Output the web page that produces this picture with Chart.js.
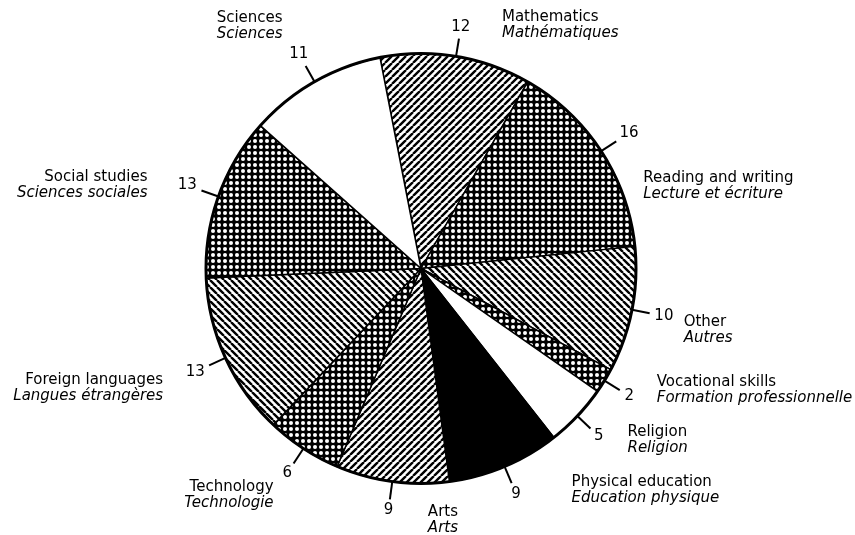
<!DOCTYPE html>
<html>
<head>
<meta charset="utf-8">
<script src="https://cdn.jsdelivr.net/npm/chart.js@4/dist/chart.umd.min.js"></script>
<style>
  html, body { margin: 0; padding: 0; background: #fff; }
  #wrap { width: 855px; height: 535px; }
</style>
</head>
<body>
<div id="wrap"><canvas id="subjectsChart"></canvas></div>
<script>
// Subjects, clockwise from the top of the pie
const subjectsEn = ['Mathematics', 'Reading and writing', 'Other', 'Vocational skills', 'Religion',
    'Physical education', 'Arts', 'Technology', 'Foreign languages', 'Social studies', 'Sciences'];
const subjectsFr = ['Mathématiques', 'Lecture et écriture', 'Autres', 'Formation professionnelle', 'Religion',
    'Education physique', 'Arts', 'Technologie', 'Langues étrangères', 'Sciences sociales', 'Sciences'];
const shares = [12, 16, 10, 2, 5, 9, 9, 6, 13, 13, 11];
const fillKinds = ['hatchUp', 'dots', 'hatchDown', 'dots', 'white', 'black', 'hatchUp', 'dots', 'hatchDown', 'dots', 'white'];

// Name block placement measured from the end of each tick: [dx, dy of first line, text align]
const nameOffsets = [
    [43, -22, 'left'], [27, 37, 'left'], [34, 9, 'left'], [37, -8, 'left'], [37, 4, 'left'],
    [60, -1, 'left'], [38, 13, 'left'], [-20, 24, 'right'], [-46, 15, 'right'], [-54, -13, 'right'], [-23, -48, 'right']
];

const FONT = '"DejaVu Sans", sans-serif';
const TICK_LEN = 18;

function makePattern(kind) {
    if (kind === 'white') return '#ffffff';
    if (kind === 'black') return '#000000';
    const c = document.createElement('canvas');
    const g = c.getContext('2d');
    if (kind === 'dots') {
        c.width = c.height = 6;
        g.fillStyle = '#000';
        g.fillRect(0, 0, 6, 6);
        g.fillStyle = '#fff';
        g.beginPath();
        g.arc(3, 3, 2, 0, Math.PI * 2);
        g.fill();
    } else {
        const s = 7;
        c.width = c.height = s;
        g.fillStyle = '#fff';
        g.fillRect(0, 0, s, s);
        g.strokeStyle = '#000';
        g.lineWidth = 2.4;
        g.beginPath();
        for (let k = -1; k <= 1; k++) {
            if (kind === 'hatchUp') {
                g.moveTo(k * s, s);
                g.lineTo(k * s + s, 0);
            } else {
                g.moveTo(k * s, 0);
                g.lineTo(k * s + s, s);
            }
        }
        g.stroke();
    }
    return g.createPattern(c, 'repeat');
}

// Outer ring, ticks, values and bilingual names
const labelPlugin = {
    id: 'sliceLabels',
    afterDatasetsDraw(chart) {
        const ctx = chart.ctx;
        const arcs = chart.getDatasetMeta(0).data;
        ctx.save();
        const first = arcs[0];
        ctx.strokeStyle = '#000';
        ctx.lineWidth = 3;
        ctx.beginPath();
        ctx.arc(first.x, first.y, first.outerRadius, 0, Math.PI * 2);
        ctx.stroke();

        ctx.lineWidth = 2;
        ctx.fillStyle = '#000';
        ctx.textBaseline = 'middle';
        arcs.forEach((arc, i) => {
            const mid = (arc.startAngle + arc.endAngle) / 2;
            const dx = Math.cos(mid), dy = Math.sin(mid);
            const r = arc.outerRadius;
            const ex = arc.x + dx * (r + TICK_LEN);
            const ey = arc.y + dy * (r + TICK_LEN);
            ctx.beginPath();
            ctx.moveTo(arc.x + dx * r, arc.y + dy * r);
            ctx.lineTo(ex, ey);
            ctx.stroke();

            ctx.font = '15px ' + FONT;
            const text = String(shares[i]);
            const w = ctx.measureText(text).width;
            const gap = 4 + Math.abs(dx) * w / 2 + Math.abs(dy) * 6;
            ctx.textAlign = 'center';
            ctx.fillText(text, ex + dx * gap, ey + dy * gap);

            const [ox, oy, align] = nameOffsets[i];
            ctx.textAlign = align;
            ctx.fillText(subjectsEn[i], ex + ox, ey + oy);
            ctx.font = 'italic 15px ' + FONT;
            ctx.fillText(subjectsFr[i], ex + ox, ey + oy + 16);
        });
        ctx.restore();
    }
};

new Chart(document.getElementById('subjectsChart'), {
    type: 'pie',
    data: {
        labels: subjectsEn,
        datasets: [{
            data: shares,
            backgroundColor: fillKinds.map(makePattern),
            borderColor: '#000',
            borderWidth: 1.5,
            radius: 215
        }]
    },
    options: {
        responsive: true,
        maintainAspectRatio: false,
        animation: false,
        rotation: -11,
        events: [],
        layout: { padding: { left: 0, right: 13, top: 2, bottom: 0 } },
        plugins: {
            legend: { display: false },
            tooltip: { enabled: false },
            title: { display: false }
        }
    },
    plugins: [labelPlugin]
});
</script>
</body>
</html>
